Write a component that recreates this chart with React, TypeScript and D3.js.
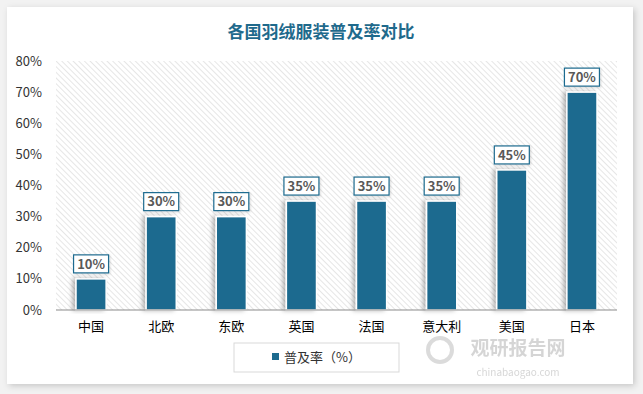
import React from 'react';
import * as d3 from 'd3';

const countries = ['中国', '北欧', '东欧', '英国', '法国', '意大利', '美国', '日本'];
const rates = [10, 30, 30, 35, 35, 35, 45, 70];
const yTicks = [0, 10, 20, 30, 40, 50, 60, 70, 80];

const W = 643;
const H = 394;
const margin = { left: 56, right: 26, top: 61, bottom: 84 };
const barColor = '#1d6b8f';
const font = "'Microsoft YaHei', 'Noto Sans CJK SC', 'Noto Sans', sans-serif";

export default function App() {
    const x = d3.scaleBand()
        .domain(countries)
        .range([margin.left, W - margin.right])
        .paddingInner(0.57)
        .paddingOuter(0.285);
    const y = d3.scaleLinear()
        .domain([0, 80])
        .range([H - margin.bottom, margin.top]);

    const plotW = W - margin.left - margin.right;

    return (
        <svg width={W} height={H} style={{ position: 'absolute', left: 0, top: 0, display: 'block' }}>
            <defs>
                <pattern id="hatch" width="4" height="4" patternUnits="userSpaceOnUse" patternTransform="rotate(-45)">
                    <rect width="4" height="4" fill="#ffffff" />
                    <line x1="0" y1="0" x2="0" y2="4" stroke="#d6d6d6" strokeWidth="1.2" />
                </pattern>
                <filter id="cardShadow" x="-5%" y="-5%" width="110%" height="115%">
                    <feDropShadow dx="2" dy="2" stdDeviation="3" floodColor="#000" floodOpacity="0.18" />
                </filter>
                <filter id="barShadow" x="-40%" y="-10%" width="160%" height="120%">
                    <feDropShadow dx="-3" dy="0" stdDeviation="2" floodColor="#000" floodOpacity="0.28" />
                </filter>
                <filter id="boxShadow" x="-20%" y="-20%" width="140%" height="150%">
                    <feDropShadow dx="1" dy="1" stdDeviation="1" floodColor="#000" floodOpacity="0.15" />
                </filter>
            </defs>
            <rect x={0} y={0} width={W} height={H} fill="#f2f2f2" />
            <rect x={7} y={7} width={626} height={377} fill="#ffffff" filter="url(#cardShadow)" />

            <text x={321} y={38} textAnchor="middle" fontFamily={font} fontWeight="bold" fontSize={17} fill="#1f6a8c">
                各国羽绒服装普及率对比
            </text>

            {/* plot background */}
            <rect x={margin.left} y={margin.top} width={plotW} height={y(0) - margin.top} fill="url(#hatch)" />

            {/* y axis labels */}
            {yTicks.map(t => (
                <text key={t} x={42} y={y(t)} dy="0.35em" textAnchor="end" fontFamily={font} fontSize={13} fill="#333">
                    {t}%
                </text>
            ))}

            {/* watermark */}
            <g opacity={0.35}>
                <circle cx={440} cy={350} r={12} fill="none" stroke="#9a9a9a" strokeWidth={4} />
                <text x={518} y={355} textAnchor="middle" fontFamily={font} fontWeight="bold" fontSize={19} fill="#8a8a8a">观研报告网</text>
                <text x={518} y={376} textAnchor="middle" fontFamily={font} fontSize={10} fill="#8a8a8a">chinabaogao.com</text>
            </g>

            {/* bars */}
            {countries.map((c, i) => (
                <rect key={c} x={x(c)} y={y(rates[i])} width={x.bandwidth()} height={y(0) - y(rates[i])}
                    fill={barColor} stroke="#ffffff" strokeWidth={1.5} filter="url(#barShadow)" />
            ))}

            <line x1={margin.left} x2={W - margin.right} y1={y(0)} y2={y(0)} stroke="#8c8c8c" strokeWidth={1.2} />

            {/* value labels */}
            {countries.map((c, i) => {
                const cx = (x(c) as number) + x.bandwidth() / 2;
                const by = y(rates[i]) - 6;
                return (
                    <g key={c}>
                        <rect x={cx - 17.5} y={by - 18} width={35} height={18} fill="#ffffff" stroke={barColor}
                            strokeWidth={1.2} filter="url(#boxShadow)" />
                        <text x={cx} y={by - 9} dy="0.36em" textAnchor="middle" fontFamily={font} fontWeight="bold"
                            fontSize={13} fill="#595959">{rates[i]}%</text>
                    </g>
                );
            })}

            {/* x labels */}
            {countries.map(c => (
                <text key={c} x={(x(c) as number) + x.bandwidth() / 2} y={326} dy="0.35em" textAnchor="middle"
                    fontFamily={font} fontSize={13} fill="#000">{c}</text>
            ))}

            {/* legend */}
            <rect x={234} y={343} width={165} height={29} fill="#ffffff" stroke="#d9d9d9" strokeWidth={1} />
            <rect x={272} y={353} width={7} height={7} fill={barColor} />
            <text x={284} y={357} dy="0.35em" fontFamily={font} fontSize={13} fill="#333">普及率（%）</text>
        </svg>
    );
}
